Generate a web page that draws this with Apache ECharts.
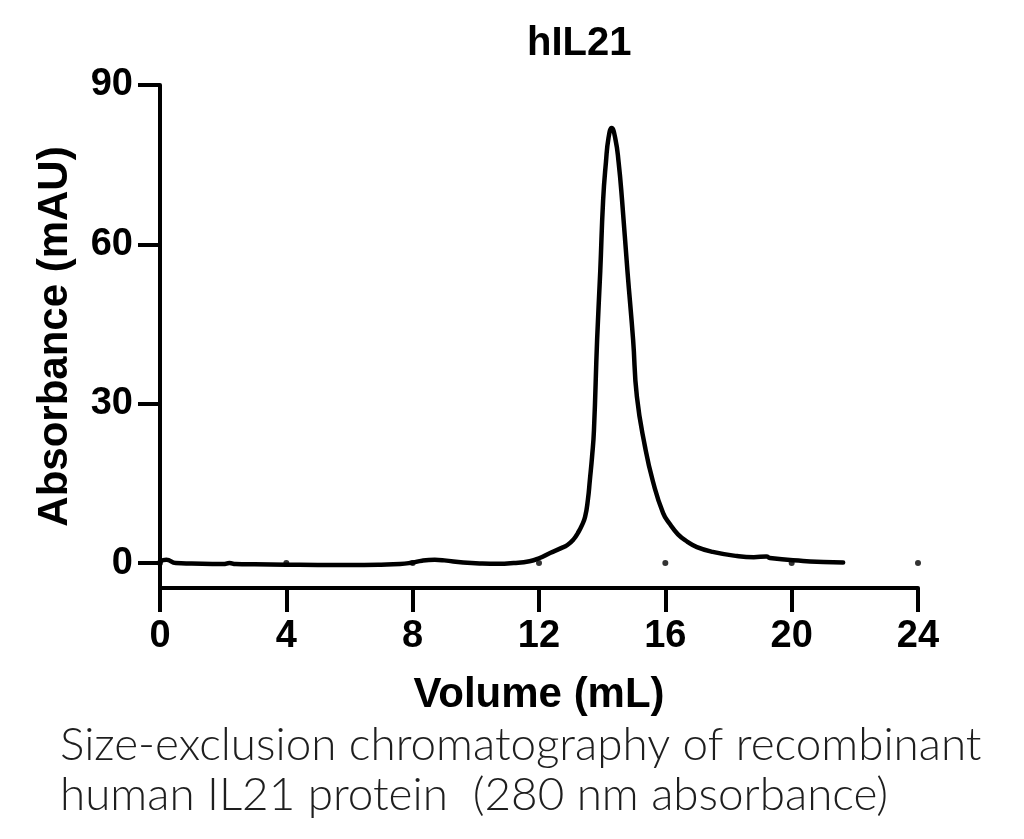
<!DOCTYPE html>
<html>
<head>
<meta charset="utf-8">
<script src="https://cdn.jsdelivr.net/npm/echarts@6/dist/echarts.min.js"></script>
<style>
  html, body { margin: 0; padding: 0; background: #ffffff; }
  #chart { width: 1024px; height: 839px; }
</style>
</head>
<body>
<div id="chart"></div>
<script>
// ---- Data ----
const chartTitle = 'hIL21';
const xAxisName = 'Volume (mL)';
const yAxisName = 'Absorbance (mAU)';
const captionLines = [
  'Size-exclusion chromatography of recombinant',
  'human IL21 protein  (280 nm absorbance)'
];
const yTickValues = [0, 30, 60, 90];

const volume = [
  0, 0.2, 0.5, 1, 2, 2.2, 2.4, 3, 4, 5, 6, 7, 7.6, 8.0, 8.3, 8.7, 9.0, 9.6,
  10.2, 10.7, 11.2, 11.7, 12.0, 12.35, 12.7, 12.9, 13.1, 13.23, 13.35, 13.46,
  13.55, 13.61, 13.68, 13.74, 13.84, 13.94, 14.03, 14.12, 14.2, 14.3, 14.42,
  14.52, 14.63, 14.8, 14.98, 15.1, 15.36, 15.61, 15.93, 16.15, 16.4, 16.7,
  17.0, 17.5, 18.27, 18.8, 19.2, 19.31, 20.36, 21.0, 21.63
];
const absorbance = [
  0.3, 0.6, 0.0, -0.1, -0.2, 0.0, -0.2, -0.25, -0.3, -0.35, -0.35, -0.3, -0.2, 0.1, 0.45, 0.6, 0.5, 0.1,
  -0.1, -0.15, 0.0, 0.35, 0.9, 1.9, 2.8, 3.4, 4.5, 5.65, 7.0, 8.7,
  12.0, 15.6, 20.0, 25.0, 42.0, 55.0, 68.3, 75.5, 80.0, 81.9, 79.8,
  75.5, 68.3, 55.0, 42.0, 31.3, 21.8, 15.3, 9.4, 7.3, 5.4, 4.0,
  3.0, 2.1, 1.32, 1.1, 1.25, 0.94, 0.38, 0.2, 0.1
];
// small markers on the zero line
const markerVolume = [0, 4, 8, 12, 16, 20, 24];
const markerAbs = [0, 0, 0, 0, 0, 0, 0];

const lineData = volume.map((v, i) => [v, absorbance[i]]);
const markerData = markerVolume.map((v, i) => [v, markerAbs[i]]);

const chart = echarts.init(document.getElementById('chart'), null, { renderer: 'canvas' });
const boldFont = 'Liberation Sans, Arial, sans-serif';

chart.setOption({
  animation: false,
  backgroundColor: '#ffffff',
  grid: { left: 160, right: 106, top: 85, bottom: 251, containLabel: false },
  xAxis: {
    type: 'value',
    min: 0, max: 24, interval: 4,
    name: xAxisName,
    nameLocation: 'middle',
    nameGap: 86,
    nameTextStyle: { fontFamily: boldFont, fontWeight: 'bold', fontSize: 42, color: '#000' },
    axisLine: { show: true, onZero: false, lineStyle: { color: '#000', width: 4 } },
    axisTick: { show: true, length: 24, lineStyle: { color: '#000', width: 4 } },
    axisLabel: { margin: 30, fontFamily: boldFont, fontWeight: 'bold', fontSize: 38, color: '#000' },
    splitLine: { show: false }
  },
  yAxis: {
    type: 'value',
    min: -4.7, max: 90,
    name: yAxisName,
    nameLocation: 'middle',
    nameGap: 84,
    nameRotate: 90,
    nameTextStyle: { fontFamily: boldFont, fontWeight: 'bold', fontSize: 42, color: '#000' },
    axisLine: { show: true, onZero: false, lineStyle: { color: '#000', width: 4 } },
    axisTick: { show: true, length: 22, customValues: yTickValues, lineStyle: { color: '#000', width: 4 } },
    axisLabel: { margin: 27, customValues: yTickValues, fontFamily: boldFont, fontWeight: 'bold', fontSize: 38, color: '#000' },
    splitLine: { show: false }
  },
  series: [
    {
      type: 'line',
      data: lineData,
      showSymbol: false,
      smooth: 0.5,
      lineStyle: { color: '#000', width: 4.5, join: 'round', cap: 'round' },
      z: 3
    },
    {
      type: 'scatter',
      data: markerData,
      symbol: 'circle',
      symbolSize: 6,
      itemStyle: { color: '#000' },
      z: 2
    }
  ],
  graphic: [
    {
      type: 'text',
      left: 527, top: 24,
      style: { text: chartTitle, fontFamily: boldFont, fontWeight: 'bold', fontSize: 40, fill: '#000' }
    },
    {
      type: 'text',
      left: 60, top: 722,
      style: { text: captionLines[0], fontFamily: 'Lato, Open Sans, sans-serif', fontWeight: 300, fontSize: 45.8, fill: '#1e1e1e' }
    },
    {
      type: 'text',
      left: 60, top: 772,
      style: { text: captionLines[1], fontFamily: 'Lato, Open Sans, sans-serif', fontWeight: 300, fontSize: 45.8, fill: '#1e1e1e' }
    }
  ]
});
</script>
</body>
</html>
